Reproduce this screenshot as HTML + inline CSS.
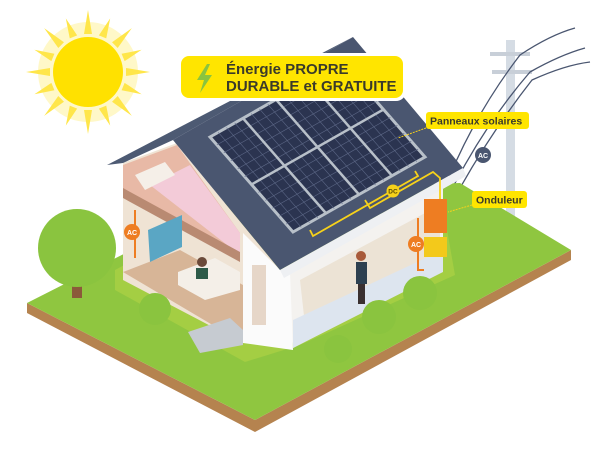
<!DOCTYPE html>
<html><head><meta charset="utf-8"><style>
html,body{margin:0;padding:0;background:#fff;width:600px;height:459px;overflow:hidden}
svg{display:block}
text{font-family:"Liberation Sans",sans-serif;font-weight:bold}
</style></head><body>
<svg width="600" height="459" viewBox="0 0 600 459">
<!-- sun -->
<g transform="translate(88,72)">
<circle r="50" fill="#fff8c8"/>
<g fill="#ffe64a">
<polygon points="-4,-38 0,-62 4,-38"/><polygon points="-4,38 0,62 4,38"/>
<polygon points="-38,-4 -62,0 -38,4"/><polygon points="38,-4 62,0 38,4"/>
<g transform="rotate(22.5)"><polygon points="-4,-38 0,-58 4,-38"/><polygon points="-4,38 0,58 4,38"/><polygon points="-38,-4 -58,0 -38,4"/><polygon points="38,-4 58,0 38,4"/></g>
<g transform="rotate(45)"><polygon points="-4,-38 0,-62 4,-38"/><polygon points="-4,38 0,62 4,38"/><polygon points="-38,-4 -62,0 -38,4"/><polygon points="38,-4 62,0 38,4"/></g>
<g transform="rotate(67.5)"><polygon points="-4,-38 0,-58 4,-38"/><polygon points="-4,38 0,58 4,38"/><polygon points="-38,-4 -58,0 -38,4"/><polygon points="38,-4 58,0 38,4"/></g>
</g>
<circle r="35" fill="#ffe100"/>
</g>
<!-- pole & wires -->
<rect x="506" y="40" width="9" height="196" fill="#d5dce4"/>
<rect x="490" y="52" width="40" height="4" fill="#c8cfd8"/>
<rect x="492" y="70" width="40" height="4" fill="#c8cfd8"/>
<g stroke="#4a5670" stroke-width="1.3" fill="none">
<path d="M440 200 Q470 120 520 55 Q550 35 575 28"/>
<path d="M444 205 Q480 130 530 72 Q560 55 585 48"/>
<path d="M448 210 Q485 140 532 80 Q565 65 590 62"/>
</g>
<circle cx="483" cy="155" r="8" fill="#4a5670"/><text x="483" y="158" font-size="7" fill="#fff" text-anchor="middle">AC</text>
<!-- ground -->
<polygon points="27,303 27,313 255,432 571,260 571,250 255,420" fill="#b5834f"/>
<polygon points="27,303 250,190 460,183 571,250 255,420" fill="#8fc640"/>
<polygon points="115,290 245,362 300,345 455,275 440,190 300,170 115,270" fill="#c4da48" opacity=".4"/>
<!-- tree -->
<rect x="72" y="270" width="10" height="28" fill="#8b5a3a"/>
<circle cx="77" cy="248" r="39" fill="#8ac43f"/>
<!-- left cutaway block -->
<polygon points="173,140 280,270 243,300 177,143" fill="#efe3d4"/>
<polygon points="123,163 177,143 243,233 243,343 123,280" fill="#efe3d4"/>
<polygon points="123,165 177,145 240,233 240,258 123,192" fill="#e8b9a6"/>
<polygon points="150,185 190,165 240,233 240,255" fill="#f3cbd8"/>
<polygon points="123,188 240,252 240,262 123,198" fill="#b98a72"/>
<polygon points="123,272 180,250 243,285 243,343" fill="#d7b597"/>
<polygon points="135,175 165,162 175,175 145,190" fill="#f5efe8"/>
<polygon points="148,230 182,215 182,247 150,262" fill="#5aa6c4"/>
<polygon points="178,272 215,258 240,272 240,290 205,300 178,285" fill="#f4efe8"/>
<polygon points="188,332 230,318 243,330 243,345 200,353" fill="#c6cbd1"/>
<!-- right section -->
<polygon points="287,272 443,187 443,270 293,348" fill="#f4f2ef"/>
<polygon points="300,280 440,205 440,255 305,325" fill="#ece3d5"/>
<polygon points="293,320 443,250 443,272 293,348" fill="#dde5ef"/>
<polygon points="243,233 280,270 290,272 293,350 243,343" fill="#fbfbfb"/>
<rect x="252" y="265" width="14" height="60" fill="#e6d6c8"/>
<!-- roof -->
<polygon points="107,165 353,37 173,140 123,163" fill="#4d5a73"/>
<polygon points="173,140 353,37 463,168 280,270" fill="#4a5670"/>
<polygon points="280,270 463,168 466,176 284,278" fill="#eef0f3"/>
<!-- panels -->
<polygon points="210,137 342,62 425,157 293,232" fill="#2b3450" stroke="#b8c0c9" stroke-width="3"/>
<g stroke="#5d6887" stroke-width=".6">
<line x1="218.25" y1="132.3" x2="301.25" y2="227.3"/><line x1="226.5" y1="127.6" x2="309.5" y2="222.6"/><line x1="234.75" y1="122.9" x2="317.75" y2="217.9"/>
<line x1="251.25" y1="113.6" x2="334.25" y2="208.6"/><line x1="259.5" y1="108.9" x2="342.5" y2="203.9"/><line x1="267.75" y1="104.2" x2="350.75" y2="199.2"/>
<line x1="284.25" y1="94.8" x2="367.25" y2="189.8"/><line x1="292.5" y1="90.1" x2="375.5" y2="185.1"/><line x1="300.75" y1="85.4" x2="383.75" y2="180.4"/>
<line x1="317.25" y1="76.1" x2="400.25" y2="171.1"/><line x1="325.5" y1="71.4" x2="408.5" y2="166.4"/><line x1="333.75" y1="66.7" x2="416.75" y2="161.7"/>
<line x1="216.9" y1="144.9" x2="348.9" y2="69.9"/><line x1="223.8" y1="152.8" x2="355.8" y2="77.8"/><line x1="230.8" y1="160.8" x2="362.8" y2="85.8"/>
<line x1="237.7" y1="168.7" x2="369.7" y2="93.7"/><line x1="244.6" y1="176.6" x2="376.6" y2="101.6"/>
<line x1="258.4" y1="192.4" x2="390.4" y2="117.4"/><line x1="265.4" y1="200.4" x2="397.4" y2="125.4"/><line x1="272.3" y1="208.3" x2="404.3" y2="133.3"/>
<line x1="279.2" y1="216.2" x2="411.2" y2="141.2"/><line x1="286.1" y1="224.1" x2="418.1" y2="149.1"/>
</g>
<g stroke="#b8c0c9" stroke-width="2.5">
<line x1="243" y1="118.25" x2="326" y2="213.25"/><line x1="276" y1="99.5" x2="359" y2="194.5"/><line x1="309" y1="80.75" x2="392" y2="175.75"/>
<line x1="251.5" y1="184.5" x2="383.5" y2="109.5"/>
</g>
<!-- DC wiring -->
<polyline points="310,230 313,236 418,176 415,171" fill="none" stroke="#f7d21a" stroke-width="1.8"/>
<polyline points="365,200 370,208 433,172 440,178 440,200" fill="none" stroke="#f7d21a" stroke-width="1.8"/>
<circle cx="393" cy="191" r="6.5" fill="#f7d21a"/><text x="393" y="193.5" font-size="6.5" fill="#5a4a00" text-anchor="middle">DC</text>
<!-- inverter -->
<rect x="424" y="199" width="23" height="34" fill="#ee7d22"/>
<rect x="424" y="237" width="23" height="20" fill="#f3c91b"/>
<path d="M418 218 V270 H424" stroke="#ee7d22" stroke-width="2" fill="none"/>
<circle cx="416" cy="244" r="8" fill="#ee7d22"/><text x="416" y="247" font-size="7" fill="#fff" text-anchor="middle">AC</text>
<path d="M135 210 V258" stroke="#ee7d22" stroke-width="2"/>
<circle cx="132" cy="232" r="8" fill="#ee7d22"/><text x="132" y="235" font-size="7" fill="#fff" text-anchor="middle">AC</text>
<!-- people -->
<rect x="356" y="262" width="11" height="22" fill="#2d4050"/><rect x="358" y="284" width="7" height="20" fill="#3a3030"/><circle cx="361" cy="256" r="5" fill="#a85a3a"/>
<rect x="196" y="268" width="12" height="11" fill="#2d5a48"/><circle cx="202" cy="262" r="5" fill="#6b4a3a"/>
<!-- bushes -->
<circle cx="155" cy="309" r="16" fill="#8ac43f"/>
<circle cx="379" cy="317" r="17" fill="#8ac43f"/>
<circle cx="338" cy="349" r="14" fill="#8ac43f"/>
<circle cx="420" cy="293" r="17" fill="#8ac43f"/>
<!-- labels -->
<rect x="178" y="53" width="228" height="48" rx="10" fill="#fff"/>
<rect x="181" y="56" width="222" height="42" rx="8" fill="#ffe500"/>
<polygon points="207,64 197,80 204,80 200,93 212,75 205,75 210,64" fill="#8ac43f"/>
<text x="226" y="74" font-size="15" fill="#3a3a2a">Énergie PROPRE</text>
<text x="226" y="91" font-size="15" fill="#3a3a2a">DURABLE et GRATUITE</text>
<rect x="426" y="112" width="103" height="17" rx="3" fill="#ffe500"/>
<text x="430" y="124.5" font-size="10.5" fill="#3a3a2a">Panneaux solaires</text>
<line x1="426" y1="128" x2="398" y2="138" stroke="#f7d21a" stroke-dasharray="2,1"/>
<rect x="472" y="191" width="55" height="17" rx="3" fill="#ffe500"/>
<text x="476" y="203.5" font-size="10.5" fill="#3a3a2a">Onduleur</text>
<line x1="472" y1="205" x2="448" y2="212" stroke="#f7d21a" stroke-dasharray="2,1"/>
</svg>
</body></html>
